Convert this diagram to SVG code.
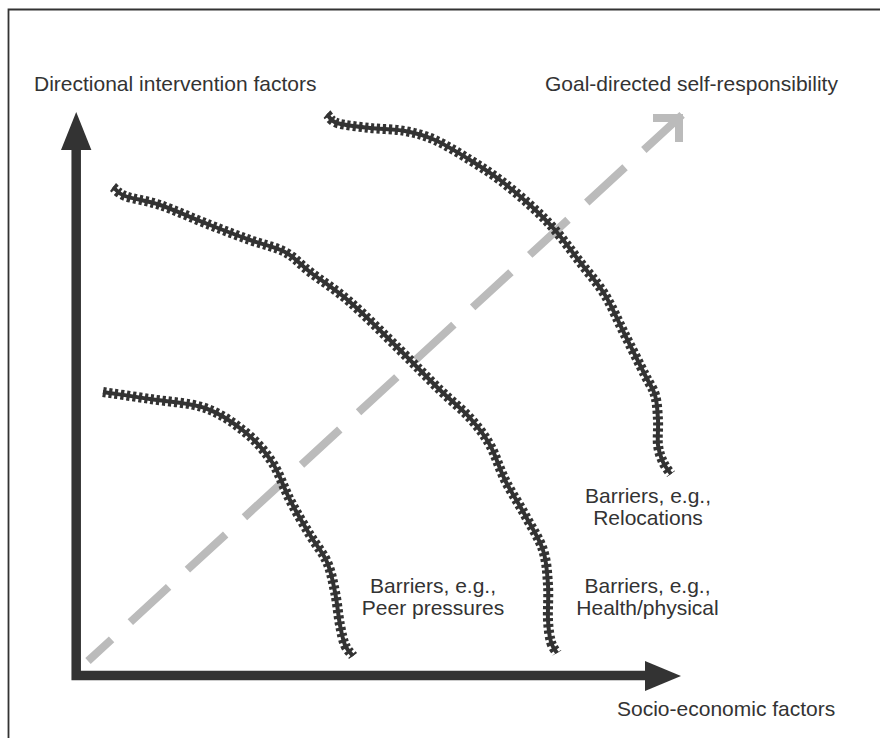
<svg xmlns="http://www.w3.org/2000/svg" width="880" height="738" viewBox="0 0 880 738">
<style>
text{font-family:"Liberation Sans",Arial,sans-serif;font-size:21px;fill:#333}
.core{fill:none;stroke:#333;stroke-width:4;stroke-linecap:butt}
.ticks{fill:none;stroke:#333;stroke-width:10;stroke-dasharray:3.2 2.8}
.axis{fill:none;stroke:#333;stroke-width:9.5;stroke-linejoin:miter}
.head{fill:#333}
.dash{fill:none;stroke:#bbb;stroke-width:8;stroke-dasharray:52 25.5;stroke-dashoffset:20}
.chev{fill:none;stroke:#bbb;stroke-width:8;stroke-linejoin:miter}
</style>
<defs>
<path id="cA" d="M103,392 C110.8,393.2 133,396.3 150,399 C167,401.7 189.2,402.5 205,408 C220.8,413.5 233.8,423 245,432 C256.2,441 264.5,450.7 272,462 C279.5,473.3 283.7,487.8 290,500 C296.3,512.2 303.8,524.7 310,535 C316.2,545.3 322.8,552.5 327,562 C331.2,571.5 332.8,581.5 335,592 C337.2,602.5 338.3,616.2 340,625 C341.7,633.8 342.8,639.8 345,645 C347.2,650.2 351.7,654.2 353,656"/>
<path id="cB" d="M113,187 C115,188.5 117.2,193 125,196 C132.8,199 145.8,200.2 160,205 C174.2,209.8 195,219.2 210,225 C225,230.8 237.5,235.5 250,240 C262.5,244.5 275,246.7 285,252 C295,257.3 299.2,263.7 310,272 C320.8,280.3 335,289 350,302 C365,315 385,335.3 400,350 C415,364.7 428.3,378.7 440,390 C451.7,401.3 461.7,408.8 470,418 C478.3,427.2 484.2,434.7 490,445 C495.8,455.3 499.2,468.3 505,480 C510.8,491.7 518.7,503.3 525,515 C531.3,526.7 539.2,538.3 543,550 C546.8,561.7 547.2,573.3 548,585 C548.8,596.7 547.5,610.5 548,620 C548.5,629.5 549.5,636.5 551,642 C552.5,647.5 556,651.2 557,653"/>
<path id="cC" d="M327,114 C328.7,115.5 329.8,120.7 337,123 C344.2,125.3 358.7,126.7 370,128 C381.3,129.3 394.2,129 405,131 C415.8,133 424.2,135.2 435,140 C445.8,144.8 459.2,153.3 470,160 C480.8,166.7 490,172.5 500,180 C510,187.5 520.8,196.7 530,205 C539.2,213.3 546.7,220.5 555,230 C563.3,239.5 571.7,251.2 580,262 C588.3,272.8 597.5,282.8 605,295 C612.5,307.2 618.3,321.7 625,335 C631.7,348.3 640,365 645,375 C650,385 652.8,387.5 655,395 C657.2,402.5 657.5,411.7 658,420 C658.5,428.3 657.2,438 658,445 C658.8,452 660.8,457.2 663,462 C665.2,466.8 669.7,472.2 671,474"/>
</defs>
<path id="frame" d="M8.5,738 V9.5 H880" fill="none" stroke="#333" stroke-width="1.8"/>
<g id="connectors">
<path class="dash" d="M88,661 L683,114"/>
<path class="chev" d="M653,118 L679,118 L679,142"/>
<path class="axis" d="M76.2,150 V675.5 H645"/>
<polygon class="head" points="76.2,112 61,150 91.4,150"/>
<polygon class="head" points="681,676 645,661 645,691"/>
</g>
<g id="barrier-peer">
<use href="#cA" class="core"/>
<use href="#cA" class="ticks"/>
<text x="433" y="593" text-anchor="middle">Barriers, e.g.,</text>
<text x="433" y="615" text-anchor="middle">Peer pressures</text>
</g>
<g id="barrier-health">
<use href="#cB" class="core"/>
<use href="#cB" class="ticks"/>
<text x="647.5" y="593" text-anchor="middle">Barriers, e.g.,</text>
<text x="647.5" y="615" text-anchor="middle">Health/physical</text>
</g>
<g id="barrier-relocations">
<use href="#cC" class="core"/>
<use href="#cC" class="ticks"/>
<text x="648" y="503" text-anchor="middle">Barriers, e.g.,</text>
<text x="648" y="525" text-anchor="middle">Relocations</text>
</g>
<g id="y-label"><text x="34" y="91">Directional intervention factors</text></g>
<g id="goal-label"><text x="545" y="91">Goal-directed self-responsibility</text></g>
<g id="x-label"><text x="617" y="716">Socio-economic factors</text></g>
</svg>
